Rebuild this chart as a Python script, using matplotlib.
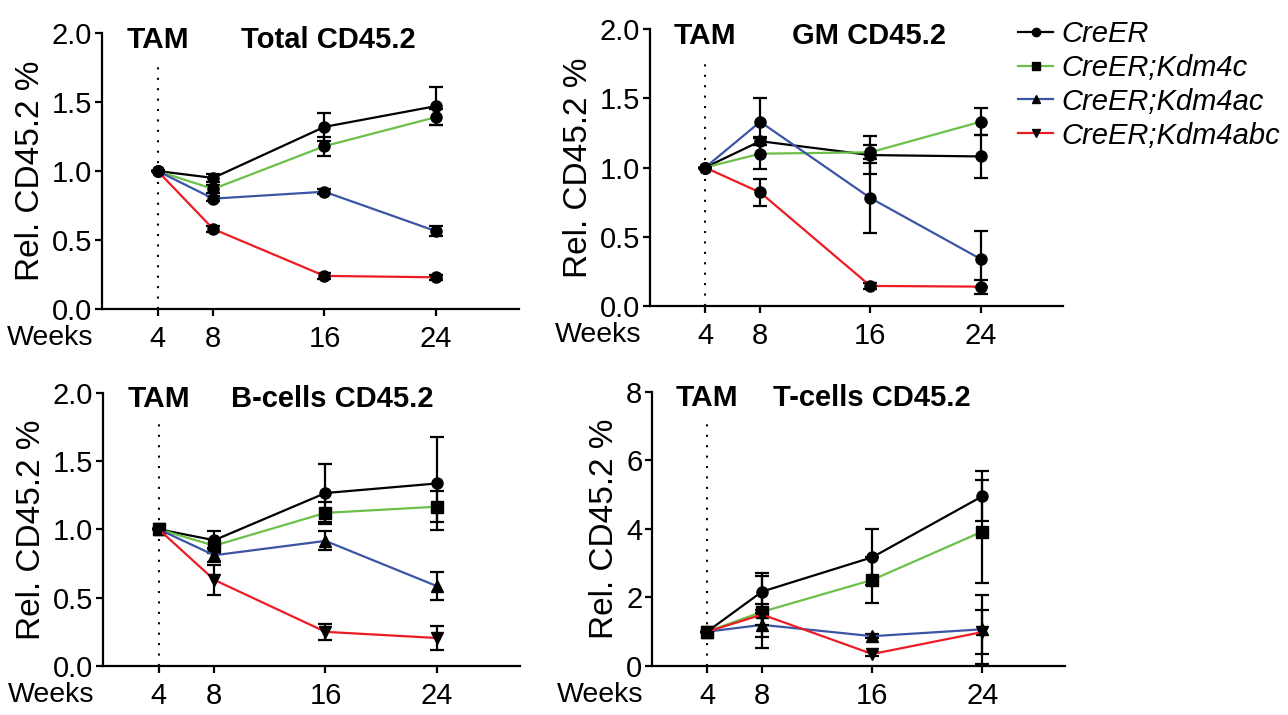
import matplotlib
matplotlib.use('Agg')
import matplotlib.pyplot as plt
from matplotlib.lines import Line2D
from matplotlib.transforms import offset_copy

plt.rcParams['font.family'] = ['Liberation Sans', 'DejaVu Sans']

weeks = [4, 8, 16, 24]
series_names = ['CreER', 'CreER;Kdm4c', 'CreER;Kdm4ac', 'CreER;Kdm4abc']
colors = ['#000000', '#6cc04a', '#3b55a5', '#ed1c24']
shapes = ['o', 's', '^', 'v']

# Total CD45.2
total_vals = [[1.0, 0.95, 1.32, 1.47],
              [1.0, 0.87, 1.18, 1.39],
              [1.0, 0.80, 0.85, 0.565],
              [1.0, 0.58, 0.24, 0.23]]
total_err = [[0, 0.03, 0.10, 0.14],
             [0, 0.03, 0.07, 0.06],
             [0, 0.02, 0.02, 0.035],
             [0, 0.02, 0.02, 0.02]]

# GM CD45.2
gm_vals = [[1.0, 1.19, 1.09, 1.08],
           [1.0, 1.10, 1.11, 1.33],
           [1.0, 1.33, 0.78, 0.34],
           [1.0, 0.82, 0.145, 0.14]]
gm_err = [[0, 0.03, 0.14, 0.155],
          [0, 0.11, 0.05, 0.097],
          [0, 0.17, 0.25, 0.20],
          [0, 0.097, 0.02, 0.05]]

# B-cells CD45.2
b_vals = [[1.0, 0.92, 1.265, 1.335],
          [1.0, 0.88, 1.12, 1.165],
          [1.0, 0.81, 0.915, 0.585],
          [1.0, 0.63, 0.25, 0.205]]
b_err = [[0, 0.065, 0.21, 0.34],
         [0, 0.05, 0.08, 0.115],
         [0, 0.05, 0.07, 0.10],
         [0, 0.11, 0.06, 0.087]]

# T-cells CD45.2
t_vals = [[1.0, 2.17, 3.17, 4.95],
          [1.0, 1.58, 2.51, 3.92],
          [1.0, 1.20, 0.87, 1.07],
          [1.0, 1.50, 0.35, 0.99]]
t_err = [[0, 0.55, 0.82, 0.72],
         [0, 1.05, 0.68, 1.5],
         [0, 0.35, 0.05, 1.0],
         [0, 0.30, 0.05, 0.65]]

panels = [
  {'title': 'Total CD45.2', 'vals': total_vals, 'err': total_err, 'yticks': [0, 0.5, 1.0, 1.5, 2.0], 'fmt': '%.1f', 'shapes': ['o'] * 4, 'pos': [0.0792, 0.5678, 0.3238, 0.3860], 'title_x': 16.3},
  {'title': 'GM CD45.2', 'vals': gm_vals, 'err': gm_err, 'yticks': [0, 0.5, 1.0, 1.5, 2.0], 'fmt': '%.1f', 'shapes': ['o'] * 4, 'pos': [0.5047, 0.5720, 0.3207, 0.3874], 'title_x': 15.9},
  {'title': 'B-cells CD45.2', 'vals': b_vals, 'err': b_err, 'yticks': [0, 0.5, 1.0, 1.5, 2.0], 'fmt': '%.1f', 'shapes': shapes, 'pos': [0.0800, 0.0685, 0.3238, 0.3825], 'title_x': 16.5},
  {'title': 'T-cells CD45.2', 'vals': t_vals, 'err': t_err, 'yticks': [0, 2, 4, 6, 8], 'fmt': '%d', 'shapes': shapes, 'pos': [0.5062, 0.0685, 0.3207, 0.3839], 'title_x': 16.0},
]

fig = plt.figure(figsize=(12.88, 7.15), dpi=100)
TICK_LEN = 5
TICK_PAD = 6.5

def draw_panel(p):
  ax = fig.add_axes(p['pos'])
  ymax = p['yticks'][-1]
  ax.set_xlim(0, 30)
  ax.set_ylim(0, ymax)
  # TAM line
  ax.plot([4, 4], [0, ymax * 0.9], color='black', lw=1.5, linestyle=(0, (1, 4)), zorder=1)
  for i in range(4):
    ax.errorbar(weeks, p['vals'][i], yerr=p['err'][i], color=colors[i], lw=1.6,
                marker=p['shapes'][i], ms=8, mfc='black', mec='black',
                ecolor='black', elinewidth=1.6, capsize=5, capthick=1.6,
                clip_on=False, zorder=2 + i)
  for s in ['top', 'right']:
    ax.spines[s].set_visible(False)
  for s in ['left', 'bottom']:
    ax.spines[s].set_linewidth(1.6)
  ax.set_xticks(weeks)
  ax.set_yticks(p['yticks'])
  ax.set_yticklabels([p['fmt'] % v for v in p['yticks']])
  ax.tick_params(direction='out', length=TICK_LEN, width=1.6)
  ax.tick_params(axis='x', pad=TICK_PAD, labelsize=21)
  ax.tick_params(axis='y', pad=2, labelsize=21)
  ax.set_ylabel('Rel. CD45.2 %', fontsize=24, labelpad=4)
  tr = offset_copy(ax.transAxes, fig=fig, y=-(TICK_LEN + TICK_PAD), units='points')
  ax.text(-0.02, 0, 'Weeks', transform=tr, ha='right', va='top', fontsize=20.5)
  ax.text(4, ymax * 0.975, 'TAM', ha='center', va='center', fontsize=21.5, fontweight='bold')
  ax.text(p['title_x'], ymax * 0.975, p['title'], ha='center', va='center', fontsize=21, fontweight='bold')
  return ax

for p in panels:
  draw_panel(p)

handles = [Line2D([0], [0], color=colors[i], lw=1.6, marker=shapes[i], ms=6, mfc='black', mec='black') for i in range(4)]
fig.legend(handles, series_names, loc='upper left', bbox_to_anchor=(1018 / 1288, 1 - 20 / 715),
           frameon=False, prop={'style': 'italic', 'size': 21}, handlelength=1.2, handletextpad=0.3,
           labelspacing=0.2, borderaxespad=0, borderpad=0)

fig.savefig('out.png', dpi=100)
